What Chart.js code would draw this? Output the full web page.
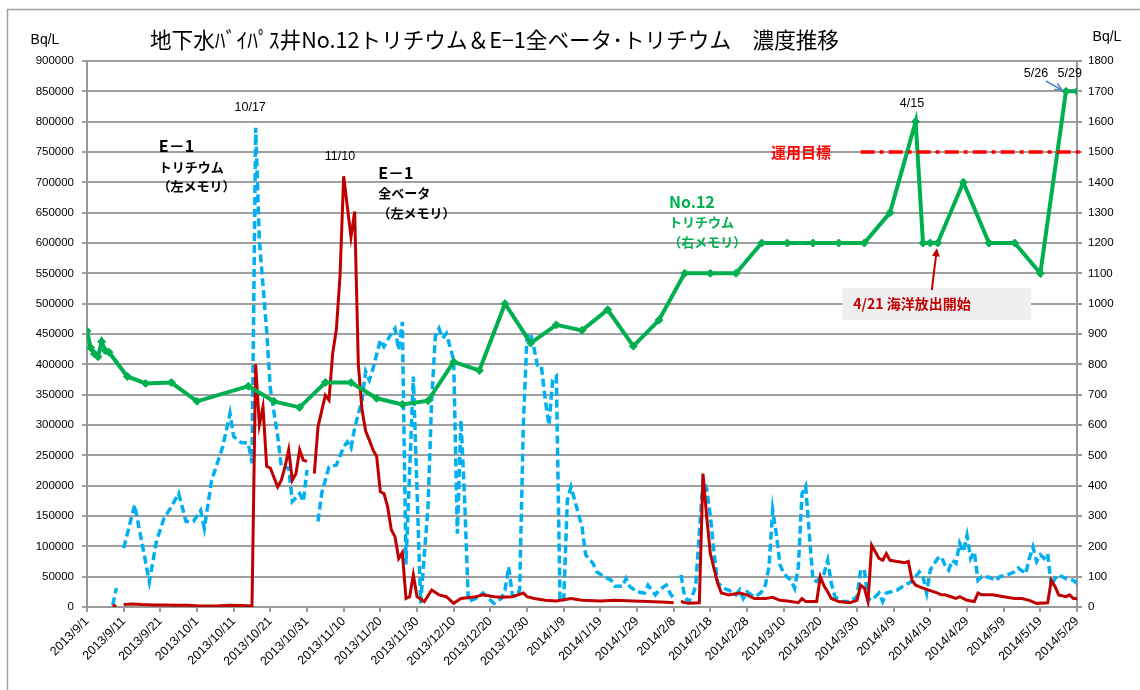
<!DOCTYPE html>
<html>
<head>
<meta charset="utf-8">
<script src="https://cdn.jsdelivr.net/npm/chart.js@4.4.0/dist/chart.umd.min.js"></script>
<style>
  html, body { margin: 0; padding: 0; background: #fff; }
  #wrap { width: 1140px; height: 690px; }
</style>
</head>
<body>
<div id="wrap"><canvas id="chart" width="1140" height="690"></canvas></div>
<script>
// x axis = days since 2013/9/1, one tick every 10 days
const xTickLabels = ['2013/9/1','2013/9/11','2013/9/21','2013/10/1','2013/10/11','2013/10/21','2013/10/31',
  '2013/11/10','2013/11/20','2013/11/30','2013/12/10','2013/12/20','2013/12/30','2014/1/9','2014/1/19',
  '2014/1/29','2014/2/8','2014/2/18','2014/2/28','2014/3/10','2014/3/20','2014/3/30','2014/4/9',
  '2014/4/19','2014/4/29','2014/5/9','2014/5/19','2014/5/29'];

// E-1 tritium (left axis, Bq/L)
const tritiumDays = [
  7,8,9,10,13,17,19,21,23,25,
  27,29,31,32,34,37,39,40,42,44,
  45,46,47,49,50,52,53,55,56,58,
  59,60,61,63,64,66,68,70,71,72,
  73,75,76,77,78,80,81,83,84,85,
  86,87,89,91,93,94,95,96,97,98,
  99,100,101,102,103,104,106,108,109,111,
  113,114,115,116,117,118,119,120,121,122,
  123,124,125,126,127,128,129,130,131,132,
  133,135,136,138,139,141,143,144,146,147,
  148,150,152,153,155,156,158,159,160,161,
  162,163,164,165,166,167,168,169,170,171,
  172,174,175,177,178,179,180,182,183,184,
  185,186,187,188,189,190,192,193,194,195,
  196,197,198,199,201,202,203,204,206,208,
  210,211,212,213,214,216,217,218,221,223,
  225,227,228,229,230,232,233,234,235,236,
  237,238,239,240,241,242,243,244,246,248,
  249,251,253,254,256,257,258,259,260,261,
  262,263,264,265,267,269,270];
const tritiumValues = [
  3000,31000,null,97000,168000,42000,110000,146000,165000,187000,
  141000,141000,159000,130000,209000,264000,319000,281000,271000,270000,
  237000,790000,605000,455000,360000,282000,231000,229000,174000,187000,
  174000,226000,null,141000,187000,231000,234000,264000,272000,262000,
  295000,341000,388000,374000,393000,440000,429000,451000,459000,424000,
  470000,70000,380000,6000,165000,341000,446000,459000,443000,451000,
  429000,407000,121000,308000,176000,9000,14000,23000,17000,6000,
  14000,28000,66000,20000,17000,28000,300000,446000,451000,424000,
  393000,393000,341000,300000,374000,380000,14000,9000,176000,198000,
  176000,132000,86000,72000,58000,50000,44000,34000,34000,47000,
  34000,25000,23000,36000,20000,28000,36000,23000,14000,null,
  53000,17000,9000,17000,34000,122000,209000,195000,150000,90000,
  40000,30000,28000,20000,28000,14000,25000,17000,20000,25000,
  36000,66000,160000,120000,70000,55000,44000,31000,66000,187000,
  199000,120000,44000,42000,55000,77000,39000,17000,9000,9000,
  17000,61000,61000,14000,11000,23000,9000,23000,28000,36000,
  42000,58000,50000,23000,61000,80000,83000,69000,61000,77000,
  72000,105000,91000,118000,80000,91000,44000,50000,49000,44000,
  50000,53000,58000,64000,55000,80000,99000,75000,86000,80000,
  88000,34000,47000,53000,47000,44000,39000];

// E-1 gross beta (left axis, Bq/L)
const betaDays = [
  7,8,9,10,12,15,18,21,24,27,
  30,33,36,39,42,45,46,47,48,49,
  50,52,53,54,55,56,57,58,59,60,
  61,62,63,65,66,67,68,69,70,71,
  72,73,74,75,76,77,78,79,80,81,
  82,83,84,85,86,87,88,89,90,92,
  94,96,98,100,102,106,108,111,113,116,
  119,120,122,125,128,132,135,140,144,149,
  153,158,160,161,162,164,167,168,169,170,
  172,173,175,178,180,182,185,187,189,191,
  194,195,196,198,199,200,201,202,203,205,
  208,210,211,212,213,214,216,217,218,219,
  221,223,224,225,226,228,230,232,233,234,
  236,237,238,240,242,243,244,247,250,253,
  255,257,259,262,263,264,265,267,268,269,
  270];
const betaValues = [
  3000,1000,null,4000,5000,4000,3500,3500,3000,3000,
  2000,1500,2000,3000,2500,1500,400000,300000,330000,232000,
  229000,198000,209000,231000,259000,209000,220000,259000,242000,240000,
  null,220000,297000,349000,341000,418000,457000,545000,710000,660000,
  610000,652000,400000,325000,290000,275000,259000,248000,190000,187000,
  165000,127000,116000,80000,90000,14000,17000,53000,17000,9000,
  28000,20000,17000,6000,14000,17000,20000,17000,16000,17000,
  23000,17000,14000,11000,10000,14000,11000,10000,11000,10000,
  9000,8000,7000,null,9000,6000,7000,220000,149000,88000,
  39000,23000,20000,23000,20000,14000,14000,16000,11000,10000,
  7000,14000,9000,9000,9000,50000,35000,25000,14000,9000,
  7000,11000,36000,31000,9000,102000,80000,77000,88000,77000,
  75000,73000,75000,44000,36000,31000,27000,23000,20000,20000,
  16000,14000,17000,11000,9000,23000,20000,20000,17000,14000,
  14000,11000,6000,7000,44000,34000,20000,17000,20000,14000,
  14000];

// No.12 tritium (right axis, Bq/L)
const no12Days = [0,1,2,3,4,5,6,11,16,23,30,44,51,58,65,72,79,86,93,100,107,114,121,128,135,142,149,
  156,163,170,177,184,191,198,205,212,219,226,228,230,232,239,246,253,260,267,270];
const no12Values = [910,855,835,825,875,845,840,760,737,740,678,728,678,658,740,740,688,668,680,808,780,1000,
  870,930,912,980,860,946,1100,1100,1100,1200,1200,1200,1200,1200,1300,1600,1200,1200,1200,1400,1200,1200,1100,1700,1700];

const targetLevel = 1500;   // 運用目標 (right axis)
const targetFromDay = 211;

function toPoints(days, values) {
  return days.map((d, i) => ({ x: d, y: values[i] }));
}

const JP = '"Noto Sans CJK JP", "Noto Sans", sans-serif';
const NUM = '"Liberation Sans", Arial, sans-serif';

function arrow(ctx, x1, y1, x2, y2, color, width, head, filled) {
  const a = Math.atan2(y2 - y1, x2 - x1);
  ctx.save();
  ctx.strokeStyle = color; ctx.fillStyle = color; ctx.lineWidth = width; ctx.setLineDash([]);
  ctx.beginPath(); ctx.moveTo(x1, y1); ctx.lineTo(x2 - Math.cos(a) * (filled ? head * 0.8 : 0), y2 - Math.sin(a) * (filled ? head * 0.8 : 0)); ctx.stroke();
  ctx.beginPath();
  ctx.moveTo(x2 - head * Math.cos(a - 0.45), y2 - head * Math.sin(a - 0.45));
  ctx.lineTo(x2, y2);
  ctx.lineTo(x2 - head * Math.cos(a + 0.45), y2 - head * Math.sin(a + 0.45));
  if (filled) { ctx.closePath(); ctx.fill(); } else { ctx.stroke(); }
  ctx.restore();
}

function text(ctx, str, x, y, font, color, align) {
  ctx.font = font; ctx.fillStyle = color; ctx.textAlign = align || 'left'; ctx.textBaseline = 'middle';
  ctx.fillText(str, x, y);
}

const annotate = {
  id: 'annotate',
  beforeDraw(chart) {
    const ctx = chart.ctx;
    ctx.save();
    ctx.fillStyle = '#fff';
    ctx.fillRect(0, 0, chart.width, chart.height);
    ctx.strokeStyle = '#a0a0a0'; ctx.lineWidth = 1.5;
    ctx.strokeRect(7.5, 9.5, chart.width, chart.height);
    ctx.restore();
  },
  afterDatasetsDraw(chart) {
    const ctx = chart.ctx, x = chart.scales.x, y2 = chart.scales.y2;
    // operating target line
    ctx.save();
    ctx.strokeStyle = '#FF0000'; ctx.lineWidth = 3.5; ctx.setLineDash([14, 5, 4, 5]);
    ctx.beginPath();
    ctx.moveTo(x.getPixelForValue(targetFromDay), y2.getPixelForValue(targetLevel));
    ctx.lineTo(chart.chartArea.right + 6, y2.getPixelForValue(targetLevel));
    ctx.stroke();
    ctx.restore();
  },
  afterDraw(chart) {
    const ctx = chart.ctx, x = chart.scales.x, y = chart.scales.y, y2 = chart.scales.y2;
    const px = d => x.getPixelForValue(d), py = v => y.getPixelForValue(v), pr = v => y2.getPixelForValue(v);
    ctx.save();
    // title and units
    text(ctx, '地下水ﾊﾞｲﾊﾟｽ井No.12トリチウム＆E−1全ベータ･トリチウム　濃度推移', 150, 40, '21.6px ' + JP, '#000', 'left');
    text(ctx, 'Bq/L', 45, 40, '14px ' + NUM, '#000', 'center');
    text(ctx, 'Bq/L', 1107, 37, '14px ' + NUM, '#000', 'center');

    // peak dates
    text(ctx, '10/17', px(44.5), py(824000), '12.5px ' + NUM, '#000', 'center');
    text(ctx, '11/10', px(69), py(742000), '12.5px ' + NUM, '#000', 'center');
    text(ctx, '4/15', px(225), pr(1661), '12.5px ' + NUM, '#000', 'center');
    text(ctx, '5/26', px(258.8), pr(1760), '12.5px ' + NUM, '#000', 'center');
    text(ctx, '5/29', px(268), pr(1760), '12.5px ' + NUM, '#000', 'center');
    arrow(ctx, px(261.5), pr(1734), px(265.9), pr(1704), '#4F81BD', 1.5, 8, false);

    // series labels
    text(ctx, 'E－1', px(19.6), py(760000), 'bold 16px ' + JP, '#000');
    text(ctx, 'トリチウム', px(19.6), py(725000), 'bold 13px ' + JP, '#000');
    text(ctx, '（左メモリ）', px(19.2), py(694000), 'bold 13px ' + JP, '#000');
    text(ctx, 'E－1', px(79.4), py(715000), 'bold 16px ' + JP, '#000');
    text(ctx, '全ベータ', px(79.4), py(682000), 'bold 13px ' + JP, '#000');
    text(ctx, '（左メモリ）', px(79.2), py(649000), 'bold 13px ' + JP, '#000');
    text(ctx, 'No.12', px(158.7), pr(1335), 'bold 16px ' + JP, '#00B050');
    text(ctx, 'トリチウム', px(158.7), pr(1269), 'bold 13px ' + JP, '#00B050');
    text(ctx, '（右メモリ）', px(158.5), pr(1203), 'bold 13px ' + JP, '#00B050');

    // target label
    text(ctx, '運用目標', px(194.7), pr(targetLevel), 'bold 15px ' + JP, '#FF0000', 'center');

    // release start callout
    ctx.fillStyle = '#EFEFEF';
    ctx.fillRect(px(206), pr(1052), px(257.5) - px(206), pr(946) - pr(1052));
    text(ctx, '4/21 海洋放出開始', px(209), pr(999), 'bold 14px ' + JP, '#C00000');
    arrow(ctx, px(230.4), pr(1045), px(231.8), pr(1183), '#C00000', 2, 9, true);
    ctx.restore();
  }
};

const chart = new Chart(document.getElementById('chart').getContext('2d'), {
  type: 'line',
  data: {
    datasets: [
      {
        label: 'No.12 トリチウム',
        data: toPoints(no12Days, no12Values),
        yAxisID: 'y2',
        borderColor: '#00B050',
        backgroundColor: '#00B050',
        borderWidth: 4,
        pointStyle: 'rectRot',
        pointRadius: 4,
        pointBorderWidth: 1,
        order: 1
      },
      {
        label: 'E-1 全ベータ',
        data: toPoints(betaDays, betaValues),
        yAxisID: 'y',
        borderColor: '#C00000',
        borderWidth: 3,
        pointRadius: 0,
        order: 2
      },
      {
        label: 'E-1 トリチウム',
        data: toPoints(tritiumDays, tritiumValues),
        yAxisID: 'y',
        borderColor: '#00B0F0',
        borderWidth: 3.5,
        borderDash: [8, 4],
        pointRadius: 0,
        order: 3
      }
    ]
  },
  options: {
    responsive: false,
    animation: false,
    devicePixelRatio: 1,
    spanGaps: false,
    layout: { padding: { top: 61, left: 0, right: 0, bottom: 0 } },
    plugins: { legend: { display: false }, tooltip: { enabled: false } },
    scales: {
      x: {
        type: 'linear', min: 0, max: 270,
        ticks: {
          stepSize: 10, autoSkip: false, maxRotation: 45, minRotation: 45, padding: 2,
          color: '#000', font: { family: NUM, size: 12.5 },
          callback: v => xTickLabels[Math.round(v / 10)]
        },
        grid: { drawOnChartArea: false, color: '#999', lineWidth: 2, tickLength: 5 },
        border: { color: '#999', width: 2 },
        afterFit(s) { s.height = 83; }
      },
      y: {
        position: 'left', min: 0, max: 900000,
        ticks: { stepSize: 50000, padding: 8, color: '#000', font: { family: NUM, size: 11.5 }, callback: v => String(v) },
        grid: { color: '#a0a0a0', lineWidth: 2, tickLength: 5 },
        border: { color: '#999', width: 2 },
        afterFit(s) { s.width = 87; }
      },
      y2: {
        position: 'right', min: 0, max: 1800,
        ticks: { stepSize: 100, padding: 6, color: '#000', font: { family: NUM, size: 11.5 }, callback: v => String(v) },
        grid: { drawOnChartArea: false, color: '#999', lineWidth: 2, tickLength: 5 },
        border: { color: '#999', width: 2 },
        afterFit(s) { s.width = 63; }
      }
    }
  },
  plugins: [annotate]
});
</script>
</body>
</html>
